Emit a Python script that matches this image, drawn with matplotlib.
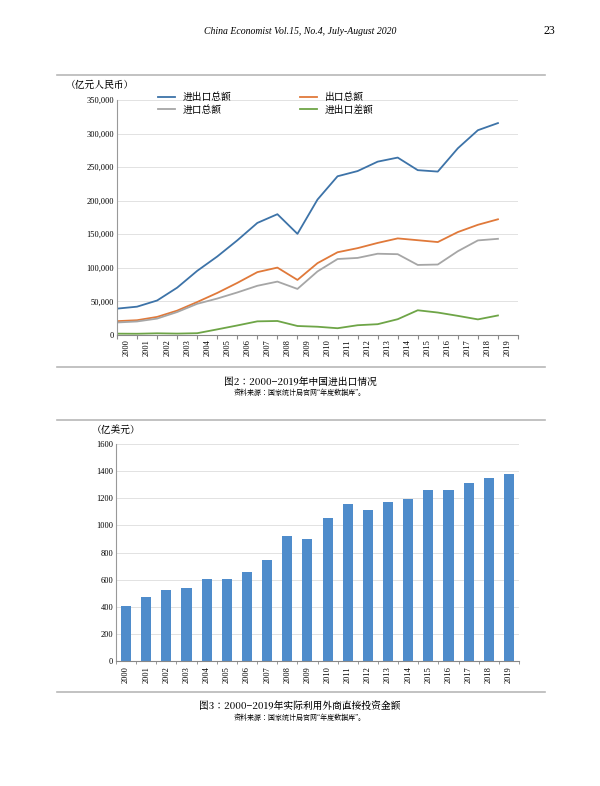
import matplotlib
matplotlib.use("Agg")
import matplotlib.pyplot as plt
from matplotlib.lines import Line2D
from matplotlib import font_manager as fm
import numpy as np

years = [str(y) for y in range(2000, 2020)]
total = [39273, 42184, 51378, 70484, 95539, 116922, 140974, 166924, 179921, 150648,
         201722, 236402, 244160, 258169, 264242, 245503, 243386, 278099, 305008, 315627]
exports = [20634, 22024, 26948, 36288, 49103, 62648, 77597, 93627, 100395, 82030,
           107023, 123241, 129359, 137131, 143884, 141167, 138419, 153309, 164129, 172342]
imports = [18639, 20159, 24430, 34196, 46436, 54274, 63377, 73297, 79527, 68618,
           94700, 113161, 114801, 121038, 120358, 104336, 104967, 124790, 140880, 143254]
balance = [1995, 1865, 2518, 2092, 2667, 8374, 14220, 20330, 20868, 13411,
           12323, 10079, 14558, 16094, 23526, 36831, 33452, 28520, 23248, 29088]
fdi = [407, 469, 527, 535, 606, 603, 658, 748, 924, 900,
       1057, 1160, 1117, 1176, 1196, 1263, 1260, 1310, 1349, 1381]

cjk_file = None
for f in fm.findSystemFonts():
    if 'CJK' in f and ('SC' in f or 'CJK' in f):
        if cjk_file is None or 'SC' in f:
            cjk_file = f
def cjk(size, bold=False):
    if cjk_file:
        fp = fm.FontProperties(fname=cjk_file, size=size)
    else:
        fp = fm.FontProperties(family='Noto Sans CJK SC', size=size)
    if bold:
        fp.set_weight('bold')
    return fp

plt.rcParams['font.family'] = 'Liberation Serif'
fig = plt.figure(figsize=(6, 7.86), dpi=100)
W, H = 600, 786

def fx(px): return px / W
def fy(py): return 1 - py / H

fig.text(fx(300), fy(31), "China Economist Vol.15, No.4, July-August 2020", ha='center', va='center',
         fontsize=7, style='italic')
fig.text(fx(549), fy(31), "23", ha='center', va='center', fontsize=8.5)

for y in (75, 367, 420, 692):
    fig.add_artist(Line2D([fx(57), fx(545)], [fy(y), fy(y)], color='#b8b8b8', lw=1.2))

# Chart 1
ax = fig.add_axes([fx(117), fy(335), fx(518) - fx(117), (335 - 100) / H])
x = np.arange(len(years))
l1, = ax.plot(x, total, color='#3d73a8', lw=1.3, label='进出口总额')
l2, = ax.plot(x, exports, color='#e0793a', lw=1.3, label='出口总额')
l3, = ax.plot(x, imports, color='#a6a6a6', lw=1.3, label='进口总额')
l4, = ax.plot(x, balance, color='#6ea547', lw=1.3, label='进出口差额')
ax.set_xlim(0, 20)
ax.set_ylim(0, 350000)
ax.set_yticks(np.arange(0, 350001, 50000))
ax.set_yticklabels([f"{v:,}" for v in range(0, 350001, 50000)], fontsize=6)
ax.set_xticks(np.arange(0, 21))
ax.set_xticklabels([])
ax.set_xticks(np.arange(20) + 0.5, minor=True)
ax.set_xticklabels(years, minor=True, rotation=90, fontsize=6)
ax.tick_params(axis='x', which='major', length=3, color='#888888')
ax.tick_params(axis='x', which='minor', length=0, pad=3)
ax.tick_params(axis='y', length=0, pad=2)
ax.grid(axis='y', color='#e2e2e2', lw=0.7)
for s in ('top', 'right'):
    ax.spines[s].set_visible(False)
ax.spines['left'].set_color('#999999')
ax.spines['bottom'].set_color('#888888')
ax.legend(handles=[l1, l3, l2, l4], ncol=2, frameon=False, prop=cjk(7),
          loc='lower left', bbox_to_anchor=(0.08, 0.9), columnspacing=7, handlelength=1.8,
          labelspacing=0.3)
fig.text(fx(66), fy(85), "（亿元人民币）", fontproperties=cjk(7), va='center', ha='left')

fig.text(fx(300), fy(382), "图2：2000−2019年中国进出口情况", ha='center', va='center', fontproperties=cjk(7, True))
fig.text(fx(300), fy(393), "资料来源：国家统计局官网“年度数据库”。", ha='center', va='center', fontproperties=cjk(5))

# Chart 2
ax2 = fig.add_axes([fx(116), fy(661), fx(519) - fx(116), (661 - 444) / H])
ax2.bar(x, fdi, width=0.5, color='#4f8ccb')
ax2.set_xlim(-0.5, 19.5)
ax2.set_ylim(0, 1600)
ax2.set_yticks(np.arange(0, 1601, 200))
ax2.set_yticklabels([str(v) for v in range(0, 1601, 200)], fontsize=6)
ax2.set_xticks(x)
ax2.set_xticklabels(years, rotation=90, fontsize=6)
ax2.set_xticks(np.arange(21) - 0.5, minor=True)
ax2.tick_params(axis='x', which='major', length=0, pad=4)
ax2.tick_params(axis='x', which='minor', length=2, color='#888888')
ax2.tick_params(axis='y', length=0, pad=2)
ax2.grid(axis='y', color='#e2e2e2', lw=0.7)
ax2.set_axisbelow(True)
for s in ('top', 'right'):
    ax2.spines[s].set_visible(False)
ax2.spines['left'].set_color('#999999')
ax2.spines['bottom'].set_color('#888888')
fig.text(fx(92), fy(430), "（亿美元）", fontproperties=cjk(7), va='center', ha='left')

fig.text(fx(300), fy(707), "图3：2000−2019年实际利用外商直接投资金额", ha='center', va='center', fontproperties=cjk(7, True))
fig.text(fx(300), fy(718), "资料来源：国家统计局官网“年度数据库”。", ha='center', va='center', fontproperties=cjk(5))

fig.savefig("out.png", dpi=100)
